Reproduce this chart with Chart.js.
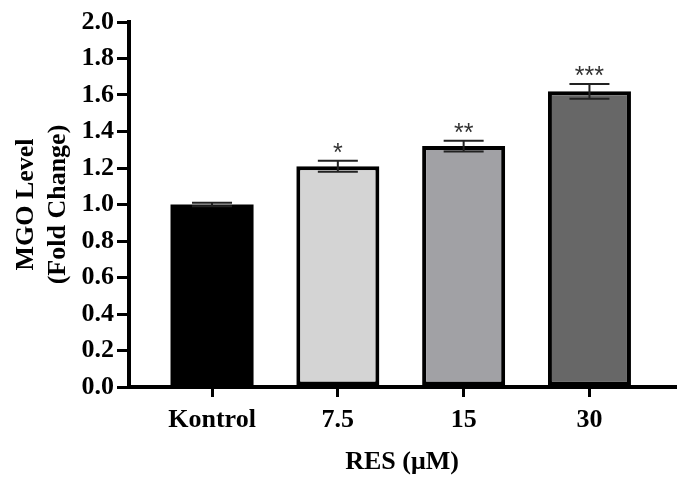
<!DOCTYPE html>
<html>
<head>
<meta charset="utf-8">
<script src="https://cdn.jsdelivr.net/npm/chart.js@4/dist/chart.umd.min.js"></script>
<style>
html,body{margin:0;padding:0;background:#fff;}
#wrap{width:691px;height:488px;position:relative;}
</style>
</head>
<body>
<div id="wrap"><canvas id="c" width="691" height="488"></canvas></div>
<script>
const categories = ['Kontrol', '7.5', '15', '30'];
const values = [1.00, 1.21, 1.32, 1.62];
const errors = [0.01, 0.03, 0.03, 0.04];
const stars = ['', '*', '**', '***'];
const fills = ['#000000', '#d4d4d4', '#a1a1a5', '#676767'];
const yTicks = [0, 0.2, 0.4, 0.6, 0.8, 1.0, 1.2, 1.4, 1.6, 1.8, 2.0];

const FONT = "'Liberation Serif', 'Times New Roman', serif";

const errPlugin = {
  id: 'errbars',
  afterDatasetsDraw(chart) {
    const ctx = chart.ctx;
    const xs = chart.scales.x, ys = chart.scales.y;
    ctx.save();
    values.forEach((v, i) => {
      const x = xs.getPixelForValue(i);
      const yTop = ys.getPixelForValue(v + errors[i]);
      const yBot = ys.getPixelForValue(v - errors[i]);
      const half = 20;
      ctx.strokeStyle = '#222';
      ctx.lineWidth = 2;
      ctx.beginPath();
      ctx.moveTo(x, yTop); ctx.lineTo(x, yBot);
      ctx.moveTo(x - half, yTop); ctx.lineTo(x + half, yTop);
      ctx.moveTo(x - half, yBot); ctx.lineTo(x + half, yBot);
      ctx.stroke();
      if (stars[i]) {
        ctx.fillStyle = '#333';
        ctx.font = "25px 'Liberation Sans', Arial, sans-serif";
        ctx.textAlign = 'center';
        ctx.textBaseline = 'middle';
        ctx.fillText(stars[i], x, yTop - 7);
      }
    });
    ctx.restore();
  }
};

new Chart(document.getElementById('c'), {
  type: 'bar',
  data: {
    datasets: [{
      data: values.map((v, i) => ({x: i, y: v})),
      backgroundColor: fills,
      borderColor: '#000',
      borderWidth: [0, 4, 4, 4],
      borderSkipped: false,
      categoryPercentage: 1,
      barPercentage: 0.66
    }]
  },
  options: {
    responsive: false,
    animation: false,
    devicePixelRatio: 1,
    layout: {padding: {top: 22, right: 16, bottom: 10, left: 10}},
    plugins: {legend: {display: false}, tooltip: {enabled: false}},
    scales: {
      x: {
        type: 'linear',
        offset: false,
        min: -0.66,
        max: 3.68,
        afterBuildTicks: s => { s.ticks = categories.map((c, i) => ({value: i})); },
        afterFit: s => { s.height = 91; },
        ticks: {
          callback: v => categories[v],
          color: '#000',
          font: {family: FONT, size: 26, weight: 'bold'},
          padding: 8,
          maxRotation: 0,
          autoSkip: false
        },
        grid: {display: true, offset: false, drawOnChartArea: false, drawTicks: true, tickLength: 10, tickColor: '#000', tickWidth: 3, color: '#000', lineWidth: 3},
        border: {display: true, color: '#000', width: 4},
        title: {display: true, text: 'RES (μM)', color: '#000', font: {family: FONT, size: 26, weight: 'bold'}, padding: {top: 0, bottom: 0}}
      },
      y: {
        min: 0,
        max: 2.0,
        afterBuildTicks: s => { s.ticks = yTicks.map(v => ({value: v})); },
        afterFit: s => { s.width = 119; },
        ticks: {
          callback: v => v.toFixed(1),
          color: '#000',
          font: {family: FONT, size: 26, weight: 'bold'},
          padding: 3
        },
        grid: {display: true, drawOnChartArea: false, drawTicks: true, tickLength: 12, tickColor: '#000', tickWidth: 3, color: '#000', lineWidth: 3},
        border: {display: true, color: '#000', width: 4},
        title: {display: true, text: ['MGO Level', '(Fold Change)'], color: '#000', font: {family: FONT, size: 26, weight: 'bold', lineHeight: 1.25}, padding: {top: 0, bottom: 0}}
      }
    }
  },
  plugins: [errPlugin]
});
</script>
</body>
</html>
